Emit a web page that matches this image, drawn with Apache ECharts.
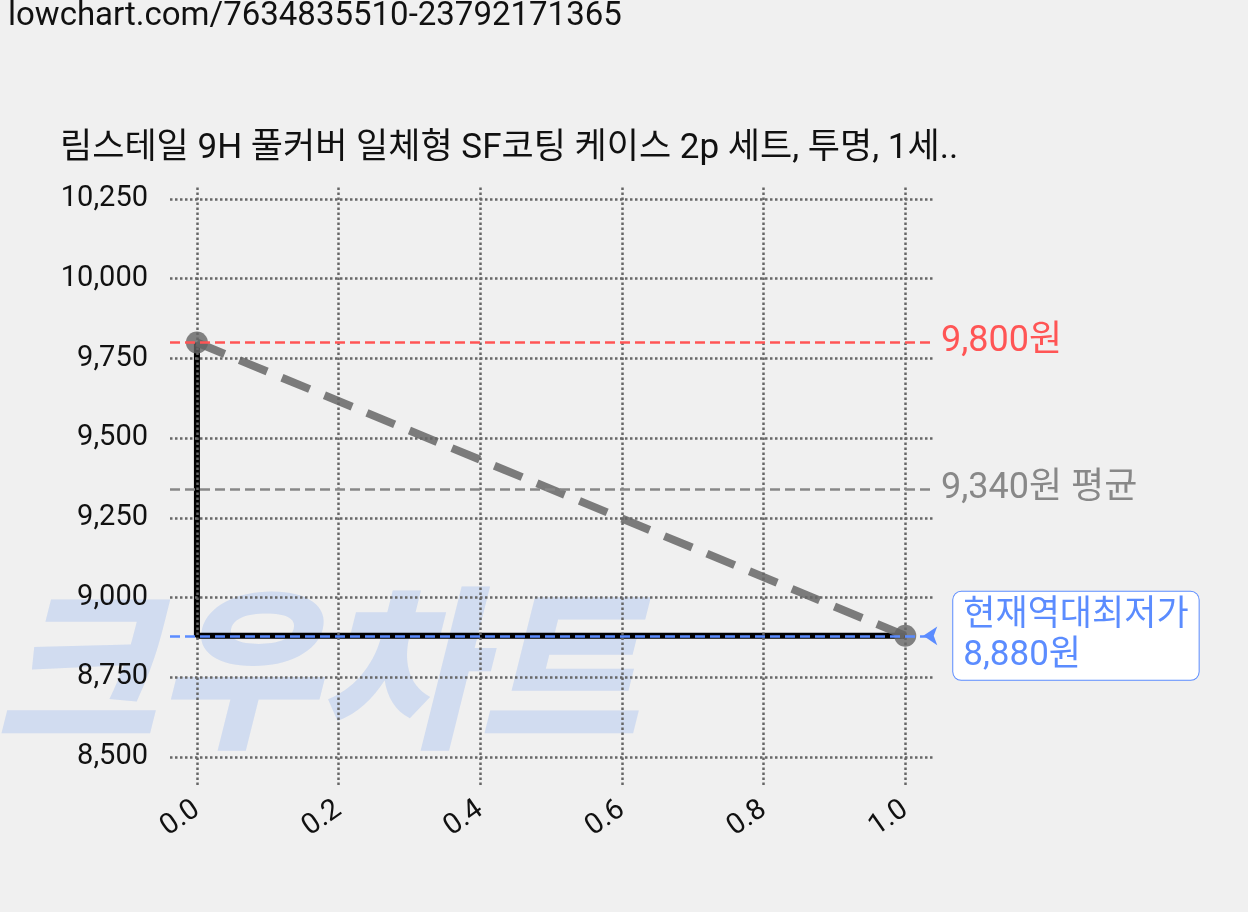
<!DOCTYPE html>
<html><head><meta charset="utf-8">
<script src="https://cdn.jsdelivr.net/npm/echarts@6/dist/echarts.min.js"></script>
<style>html,body{margin:0;background:#f0f0f0}#c{width:1248px;height:912px}</style>
</head><body><div id="c"></div>
<script>
const stepX = [0, 0, 1];
const stepY = [9800, 8880, 8880];
const trendX = [0, 1];
const trendY = [9800, 8880];
const maxPrice = 9800, avgPrice = 9340, minPrice = 8880;
const xTicks = [0, 0.2, 0.4, 0.6, 0.8, 1.0];
const yTicks = [8500, 8750, 9000, 9250, 9500, 9750, 10000, 10250];
const font = 'Roboto, "Noto Sans CJK KR", sans-serif';
const gridStyle = {type:'dotted', color:'#666', width:2.5};
const chart = echarts.init(document.getElementById('c'));
chart.setOption({
  backgroundColor: '#f0f0f0',
  animation: false,
  graphic: [
    {type:'text', left: 8, top: 0, style:{text:'lowchart.com/7634835510-23792171365', font:'33px '+font, fill:'#111'}},
    {type:'text', left: 60, top: 132, style:{text:'림스테일 9H 풀커버 일체형 SF코팅 케이스 2p 세트, 투명, 1세..', font:'35px '+font, fill:'#111'}},
    {type:'text', left: -5, top: 580, z: 0, style:{text:'크우차트', font:'italic 900 175px "Noto Sans CJK KR"', fill:'rgba(170,195,240,0.45)'}}
  ],
  grid: {left: 170, right: 313, top: 185, bottom: 127},
  xAxis: {type:'value', min:-0.038, max:1.042,
    axisLine:{show:false}, axisTick:{show:false}, splitLine:{show:false},
    axisLabel:{customValues:xTicks, rotate:35, fontSize:29, color:'#111', fontFamily:font, margin:22, formatter:v=>v.toFixed(1)}},
  yAxis: {type:'value', min:8412, max:10294,
    axisLine:{show:false}, axisTick:{show:false}, splitLine:{show:false},
    axisLabel:{customValues:yTicks, fontSize:29, color:'#111', fontFamily:font, margin:22, formatter:v=>v.toLocaleString('en-US')}},
  series: [
    {type:'line', data: [], z:1,
      markLine:{symbol:'none', silent:true, label:{show:false}, lineStyle:gridStyle,
        data: xTicks.map(v=>({xAxis:v})).concat(yTicks.map(v=>({yAxis:v})))}},
    {type:'line', data: stepX.map((x,i)=>[x, stepY[i]]), symbol:'none', z:3,
      lineStyle:{color:'#000', width:6},
      markLine:{symbol:'none', silent:true, data:[
        {yAxis:maxPrice, lineStyle:{color:'#ff5555', type:'dashed', width:2.5},
          label:{formatter:'9,800원', position:'end', distance:6, color:'#ff5555', fontSize:36, fontFamily:font}},
        {yAxis:avgPrice, lineStyle:{color:'#888', type:'dashed', width:2.5},
          label:{formatter:'9,340원 평균', position:'end', distance:6, color:'#888', fontSize:36, fontFamily:font}},
        {yAxis:minPrice, lineStyle:{color:'#5b8cff', type:'dashed', width:2.5}, label:{show:false}}
      ]}},
    {type:'line', data: trendX.map((x,i)=>[x, trendY[i]]), symbol:'circle', symbolSize:22, z:4,
      itemStyle:{color:'rgba(100,100,100,0.8)'},
      lineStyle:{color:'rgba(110,110,110,0.9)', width:8, type:[30,16]},
      markPoint:{symbol:'arrow', symbolSize:14, symbolRotate:90, symbolOffset:[18,0],
        itemStyle:{color:'#5b8cff'},
        data:[{coord:[1, minPrice],
          label:{show:true, position:'right', distance:16, formatter:'현재역대최저가\n8,880원',
            color:'#5b8cff', fontSize:35, fontFamily:font, lineHeight:40,
            backgroundColor:'#fff', borderColor:'#5b8cff', borderWidth:1, borderRadius:8, padding:[4,10]}}]}}
  ]
});
</script></body></html>
